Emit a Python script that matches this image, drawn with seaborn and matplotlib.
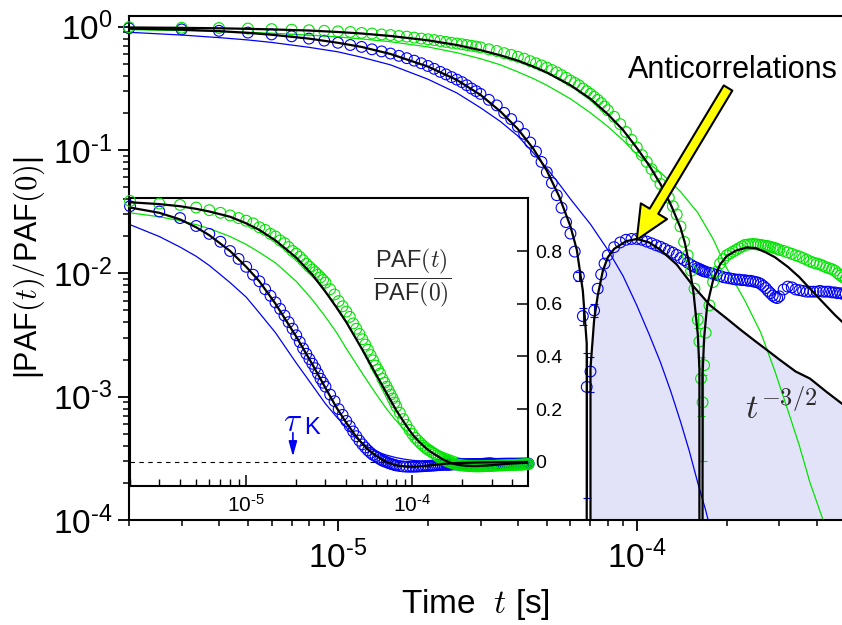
import numpy as np
import pandas as pd
import matplotlib
matplotlib.use("Agg")
import matplotlib.pyplot as plt
import seaborn as sns
from matplotlib.ticker import LogLocator, NullFormatter, FixedLocator, FixedFormatter

# measured PAF(t)/PAF(0), time in microseconds
t_us = [2, 3, 4, 5, 6, 7, 8, 9, 10, 11,
        12, 13, 14, 15, 16, 17, 18, 19, 20, 21,
        22, 23, 24, 25, 26, 27, 28, 29, 30,
        32, 34, 36, 38, 40, 42, 44, 46, 48, 50,
        52, 54, 56, 58, 60, 62, 64, 66, 68, 70,
        72, 74, 76, 78, 80,
        84, 88, 92, 96, 100, 104, 108, 112, 116, 120,
        124, 128, 132, 136, 140, 144, 148, 152, 156, 160,
        162, 164, 166, 168, 170,
        175, 180, 185, 190, 195, 200, 205, 210, 215, 220,
        225, 230, 235, 240, 245, 250, 255, 260, 265, 270,
        275, 280, 285, 290, 295, 300,
        310, 320, 330, 340, 350, 360, 370, 380, 390, 400,
        410, 420, 430, 440, 450, 460, 470, 480, 490, 500]
paf_green = [0.99, 0.98, 0.975, 0.965, 0.955, 0.945, 0.935, 0.925, 0.915, 0.905,
             0.89, 0.88, 0.865, 0.855, 0.84, 0.83, 0.815, 0.80, 0.79, 0.778,
             0.765, 0.752, 0.74, 0.73, 0.72, 0.71, 0.70, 0.69, 0.68,
             0.655, 0.635, 0.61, 0.59, 0.57, 0.55, 0.525, 0.505, 0.485, 0.465,
             0.445, 0.425, 0.405, 0.385, 0.365, 0.35, 0.335, 0.315, 0.30, 0.285,
             0.27, 0.255, 0.24, 0.225, 0.21,
             0.186, 0.162, 0.14, 0.121, 0.105, 0.091, 0.08, 0.07, 0.061, 0.053,
             0.046, 0.041, 0.035, 0.03, 0.024, 0.018, 0.014, 0.0105, 0.0075, 0.0042,
             0.0028, 0.0014, 0.0009, -0.0018, -0.0033,
             -0.0055, -0.0085, -0.0103, -0.012, -0.013, -0.014, -0.0145, -0.015, -0.0155, -0.016,
             -0.0165, -0.017, -0.0171, -0.0172, -0.0173, -0.0172, -0.0171, -0.017, -0.0168, -0.0167,
             -0.0166, -0.0164, -0.0162, -0.016, -0.0158, -0.0155,
             -0.0152, -0.0148, -0.0144, -0.014, -0.0137, -0.0133, -0.0129, -0.0125, -0.0122, -0.012,
             -0.0118, -0.0115, -0.0112, -0.011, -0.0108, -0.0105, -0.01, -0.0096, -0.0093, -0.009]
paf_blue = [0.97, 0.95, 0.925, 0.895, 0.865, 0.835, 0.80, 0.77, 0.74, 0.71,
            0.685, 0.655, 0.63, 0.605, 0.58, 0.555, 0.53, 0.505, 0.48, 0.455,
            0.43, 0.41, 0.39, 0.372, 0.355, 0.335, 0.315, 0.30, 0.285,
            0.255, 0.23, 0.20, 0.178, 0.155, 0.135, 0.115, 0.097, 0.08, 0.066,
            0.054, 0.043, 0.034, 0.026, 0.021, 0.015, 0.0095, 0.0045, 0.0012, -0.0016,
            -0.005, -0.0075, -0.0098, -0.012, -0.014,
            -0.0163, -0.0178, -0.0187, -0.019, -0.019, -0.0187, -0.0181, -0.0175, -0.0169, -0.0164,
            -0.0158, -0.0152, -0.0147, -0.0141, -0.0133, -0.0128, -0.0122, -0.0117, -0.0113, -0.011,
            -0.0108, -0.0107, -0.0105, -0.0104, -0.0103,
            -0.0101, -0.0099, -0.0097, -0.0095, -0.0093, -0.0092, -0.0091, -0.009, -0.0089, -0.0089,
            -0.0088, -0.0088, -0.0087, -0.0087, -0.0086, -0.0085, -0.0084, -0.0082, -0.0079, -0.0076,
            -0.0072, -0.0069, -0.0066, -0.0064, -0.0063, -0.0065,
            -0.0074, -0.0078, -0.0077, -0.0074, -0.0073, -0.0072, -0.0071, -0.0071, -0.0071, -0.0071,
            -0.0072, -0.0071, -0.0071, -0.0071, -0.007, -0.007, -0.0069, -0.0069, -0.0068, -0.0068]

# error bars shown only around the zero crossings
green_err_t = [160, 164, 166]
green_err = [0.0006, 0.0007, 0.0006]
blue_err_t = [64, 66, 68, 70, 72]
blue_err = [0.0008, 0.0007, 0.00105, 0.0005, 0.0006]

# fits (black lines)
fit_green_t = [2, 3, 4, 5, 6, 8, 10, 12, 15, 20, 25, 30, 35, 40, 45, 50, 60, 70, 80,
               90, 100, 110, 120, 130, 140, 145, 150, 155, 160, 162, 164, 166, 168,
               172, 180, 190, 200, 215, 233, 250, 270, 290, 320, 350, 380, 420,
               460, 500]
fit_green = [0.985, 0.978, 0.97, 0.96, 0.95, 0.93, 0.905, 0.88, 0.84, 0.775, 0.71,
             0.645, 0.585, 0.53, 0.475, 0.425, 0.335, 0.26, 0.195, 0.145, 0.104,
             0.075, 0.053, 0.036, 0.0235, 0.0175, 0.0115, 0.0068, 0.0032, 0.0017,
             0.0, -0.0015, -0.003, -0.0055, -0.0088, -0.0118, -0.0138, -0.0153,
             -0.0162, -0.016, -0.0148, -0.0135, -0.0113, -0.0093, -0.0075, -0.0058,
             -0.0046, -0.0038]
fit_blue_t = [2, 3, 4, 5, 6, 8, 10, 12, 15, 20, 25, 30, 35, 40, 45, 50, 55, 60, 63,
              66, 68, 69, 70, 72, 74, 77, 80, 84, 92, 100, 110, 120, 136, 155, 176,
              200, 222, 250, 272, 300, 340, 380, 430, 485, 500]
fit_blue = [0.965, 0.945, 0.92, 0.89, 0.86, 0.80, 0.74, 0.685, 0.60, 0.475, 0.37,
            0.28, 0.205, 0.148, 0.103, 0.068, 0.042, 0.024, 0.0155, 0.0072, 0.0027,
            0.0, -0.0017, -0.0042, -0.0066, -0.0105, -0.0135, -0.0158, -0.0182,
            -0.019, -0.0178, -0.0155, -0.0118, -0.0078, -0.0055, -0.0043, -0.0035,
            -0.0028, -0.0024, -0.002, -0.0016, -0.0014, -0.0011, -0.00088, -0.00084]

# thin model curves
model_green_t = [2, 3, 4, 5, 6, 8, 10, 12, 15, 20, 25, 30, 35, 40, 45, 50, 60, 70,
                 80, 90, 100, 120, 140, 160, 180, 200, 230, 260, 290, 320, 350, 380,
                 420, 460]
model_green = [0.945, 0.93, 0.915, 0.9, 0.885, 0.855, 0.825, 0.795, 0.755, 0.685,
               0.615, 0.55, 0.49, 0.43, 0.38, 0.335, 0.26, 0.2, 0.155, 0.12, 0.092,
               0.066, 0.046, 0.031, 0.019, 0.011, 0.006, 0.0033, 0.0016, 0.00078,
               0.0004, 0.0002, 0.0001, 0.00005]
model_blue_t = [2, 3, 4, 5, 6, 8, 10, 12, 15, 20, 25, 30, 35, 40, 45, 50, 55, 60, 70,
                80, 90, 100, 110, 120, 130, 140, 150, 160, 170, 180]
model_blue = [0.90, 0.855, 0.815, 0.78, 0.745, 0.68, 0.625, 0.565, 0.49, 0.375,
              0.29, 0.22, 0.17, 0.13, 0.095, 0.071, 0.053, 0.04, 0.025, 0.0155,
              0.0095, 0.0055, 0.0032, 0.0019, 0.0011, 0.00063, 0.00036, 0.0002,
              0.00012, 0.00007]

x_ticks = [1e-5, 1e-4]
x_labels = ['$\\mathdefault{10^{\u20105}}$', '$\\mathdefault{10^{\u20104}}$']
y_ticks = [1e-4, 1e-3, 1e-2, 1e-1, 1.0]
y_labels = ['$\\mathdefault{10^{\u20104}}$', '$\\mathdefault{10^{\u20103}}$',
            '$\\mathdefault{10^{\u20102}}$', '$\\mathdefault{10^{\u20101}}$',
            '$\\mathdefault{10^{0}}$']
inset_y_ticks = [0, 0.2, 0.4, 0.6, 0.8]
inset_y_labels = ['0', '0.2', '0.4', '0.6', '0.8']

GREEN = '#00e400'
BLUE = '#0000f5'
FILL = '#e2e2f8'

sns.set_style('ticks')
plt.rcParams['font.family'] = ['Liberation Sans', 'DejaVu Sans']
plt.rcParams['axes.unicode_minus'] = False
plt.rcParams['axes.linewidth'] = 1.5
for key in ['axes.edgecolor', 'text.color', 'axes.labelcolor', 'xtick.color', 'ytick.color']:
    plt.rcParams[key] = 'black'

data = pd.DataFrame({'t_us': t_us, 'green': paf_green, 'blue': paf_blue})
data['t'] = data['t_us'] * 1e-6
by_t = data.set_index('t_us')


def us(v):
    return np.array(v) * 1e-6


def draw_curves(axis, fold):
    # fold=True gives |PAF| for the log panel
    val = np.abs if fold else np.asarray
    sns.lineplot(x=us(model_blue_t), y=val(np.array(model_blue)), ax=axis,
                 color=BLUE, lw=0.9, zorder=2)
    sns.lineplot(x=us(model_green_t), y=val(np.array(model_green)), ax=axis,
                 color=GREEN, lw=0.9, zorder=2)
    for col, c in [('blue', BLUE), ('green', GREEN)]:
        sns.scatterplot(x=data['t'].values, y=val(data[col].values), ax=axis,
                        marker='o', s=60, facecolor='none', edgecolor=c,
                        linewidth=0.8, clip_on=False, zorder=3)
    sns.lineplot(x=us(fit_blue_t), y=val(np.array(fit_blue)), ax=axis,
                 color='black', lw=1.6, zorder=4)
    sns.lineplot(x=us(fit_green_t), y=val(np.array(fit_green)), ax=axis,
                 color='black', lw=1.6, zorder=4)


fig = plt.figure(figsize=(8.42, 6.25), dpi=100)
ax = fig.add_axes([0.1532, 0.168, 0.8468, 0.8064])

# shaded anticorrelation area under the blue fit
fb_t = np.array(fit_blue_t)
mask = fb_t >= 69
ax.fill_between(us(fb_t[mask]), np.abs(np.array(fit_blue))[mask], 1e-6,
                color=FILL, lw=0, zorder=0)

draw_curves(ax, True)

for tt, ee, col, c in [(blue_err_t, blue_err, 'blue', BLUE),
                       (green_err_t, green_err, 'green', GREEN)]:
    yy = np.abs(by_t.loc[tt, col].values)
    ax.errorbar(us(tt), yy, yerr=ee, fmt='none', ecolor=c, elinewidth=0.8,
                capsize=3, capthick=0.8, zorder=3)

ax.set_xscale('log')
ax.set_yscale('log')
ax.set_xlim(2e-6, 4.86e-4)
ax.set_ylim(1e-4, 1.22)
ax.spines['right'].set_visible(False)
ax.xaxis.set_major_locator(FixedLocator(x_ticks))
ax.xaxis.set_major_formatter(FixedFormatter(x_labels))
ax.yaxis.set_major_locator(FixedLocator(y_ticks))
ax.yaxis.set_major_formatter(FixedFormatter(y_labels))
ax.xaxis.set_minor_locator(LogLocator(base=10, subs=np.arange(2, 10), numticks=20))
ax.yaxis.set_minor_locator(LogLocator(base=10, subs=np.arange(2, 10), numticks=20))
ax.xaxis.set_minor_formatter(NullFormatter())
ax.yaxis.set_minor_formatter(NullFormatter())
ax.tick_params(which='major', direction='out', length=8, width=1.3, labelsize=24,
               top=False, right=False)
ax.tick_params(axis='y', which='major', pad=4)
ax.tick_params(axis='x', which='major', pad=7)
ax.tick_params(which='minor', direction='out', length=4.5, width=1.1,
               top=False, right=False)

ax.set_xlabel('Time  $t$ [s]', fontsize=24, math_fontfamily='cm')
ax.set_ylabel('|PAF$(t)/$PAF$(0)$|', fontsize=22, math_fontfamily='cm')
ax.xaxis.set_label_coords(0.486, -0.132)
ax.yaxis.set_label_coords(-0.115, 0.5)

ax.text(2.1e-4, 0.3815, 'Anticorrelations', fontsize=22, ha='center',
        va='baseline', color='black')
ax.annotate('', xy=(1.0e-4, 0.0187), xytext=(2.02e-4, 0.318),
            arrowprops=dict(arrowstyle='simple,head_length=1.2,head_width=1.1,tail_width=0.36',
                            fc='#ffff00', ec='black', lw=1.5, mutation_scale=20,
                            shrinkA=0, shrinkB=0), zorder=6)
ax.text(3.04e-4, 8.2e-4, '$t^{-3/2}$', fontsize=25, ha='center', va='center',
        color='#2b2b2b', math_fontfamily='cm')

# inset with linear PAF axis
ins = fig.add_axes([0.1544, 0.2224, 0.4727, 0.4603])
ins.set_facecolor('white')
ins.axhline(0, color='black', lw=0.8, ls=(0, (4, 4)), zorder=1)
draw_curves(ins, False)
ins.set_xscale('log')
ins.set_xlim(2e-6, 4.96e-4)
ins.set_ylim(-0.092, 1.0)
ins.set_xlabel('')
ins.set_ylabel('')
ins.yaxis.tick_right()
ins.yaxis.set_major_locator(FixedLocator(inset_y_ticks))
ins.yaxis.set_major_formatter(FixedFormatter(inset_y_labels))
ins.xaxis.set_major_locator(FixedLocator(x_ticks))
ins.xaxis.set_major_formatter(FixedFormatter(x_labels))
ins.xaxis.set_minor_locator(LogLocator(base=10, subs=np.arange(2, 10), numticks=20))
ins.xaxis.set_minor_formatter(NullFormatter())
ins.tick_params(axis='y', which='both', direction='in', length=8, width=1.1,
                labelsize=14, left=False, right=True, pad=5)
ins.tick_params(axis='x', which='major', direction='in', length=8, width=1.1,
                labelsize=15, pad=6, top=False)
ins.tick_params(axis='x', which='minor', direction='in', length=5, width=1.0,
                top=False)
for sp in ins.spines.values():
    sp.set_linewidth(1.5)

ins.text(1.0e-4, 0.70, r'$\dfrac{\mathdefault{PAF}(t)}{\mathdefault{PAF}(0)}$',
         fontsize=17, ha='center', va='center', color='#2b2b2b',
         math_fontfamily='cm')
ins.annotate('', xy=(1.91e-5, 0.02), xytext=(1.91e-5, 0.11),
             arrowprops=dict(arrowstyle='-|>,head_length=0.9,head_width=0.25',
                             color=BLUE, lw=1.2, mutation_scale=10,
                             shrinkA=0, shrinkB=0))
ins.text(1.89e-5, 0.15, r'$\tau$', fontsize=24, ha='center', va='center',
         color=BLUE, math_fontfamily='cm')
ins.text(2.49e-5, 0.127, 'K', fontsize=17, ha='center', va='center', color=BLUE)

fig.savefig('out.png', dpi=100)
